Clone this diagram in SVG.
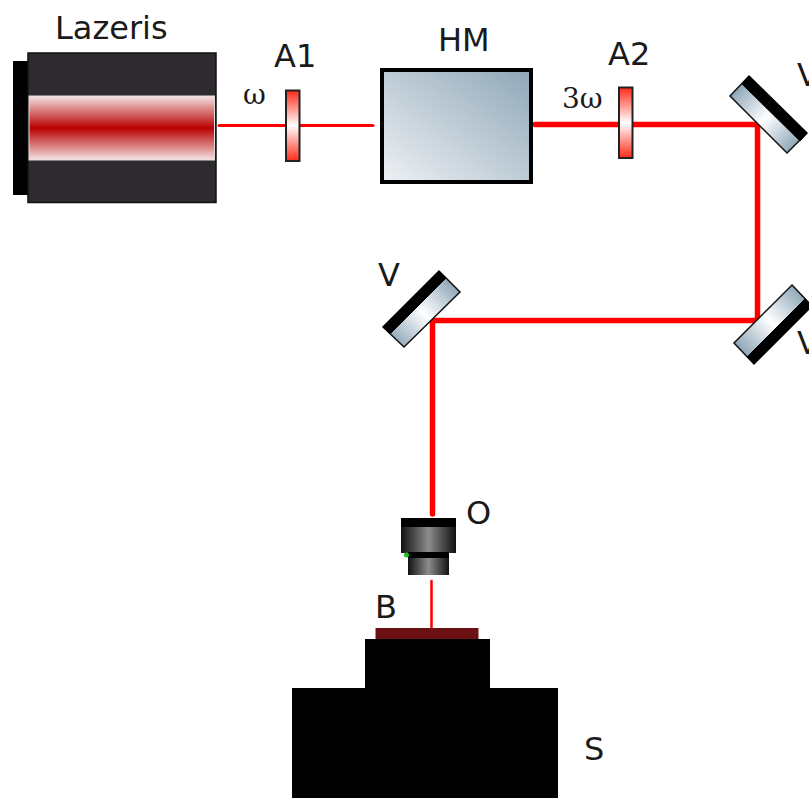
<svg xmlns="http://www.w3.org/2000/svg" width="809" height="798" viewBox="0 0 809 798">
<style>
text{font-family:"DejaVu Sans",Verdana,sans-serif;font-size:32px;fill:#1a1a1a}
text.w{font-family:"DejaVu Serif","Liberation Serif",serif;font-size:28px}
.b1{stroke:#f00;stroke-width:3;fill:none;stroke-linecap:round}
.b2{stroke:#f00;stroke-width:5.500;fill:none}
.pl{stroke:#222;stroke-width:2;fill:url(#plate)}
.m{stroke:#111;stroke-width:1.500}
</style>
<defs>
<linearGradient id="laser" x1="0" y1="0" x2="0" y2="1">
<stop offset="0" stop-color="#f6e3e3"/><stop offset=".5" stop-color="#b80000"/><stop offset="1" stop-color="#f6e3e3"/>
</linearGradient>
<linearGradient id="plate" x1="0" y1="0" x2="0" y2="1">
<stop offset="0" stop-color="#ff2a1a"/><stop offset=".5" stop-color="#fff"/><stop offset="1" stop-color="#ff2a1a"/>
</linearGradient>
<linearGradient id="hm" x1="0" y1="1" x2="1" y2="0">
<stop offset="0" stop-color="#eef1f4"/><stop offset="1" stop-color="#8fa7b8"/>
</linearGradient>
<linearGradient id="mA" gradientUnits="userSpaceOnUse" x1="736" y1="90" x2="794" y2="147">
<stop offset="0" stop-color="#8fa7b8"/><stop offset=".5" stop-color="#fff"/><stop offset="1" stop-color="#8fa7b8"/>
</linearGradient>
<linearGradient id="mB" gradientUnits="userSpaceOnUse" x1="390" y1="337" x2="450" y2="281">
<stop offset="0" stop-color="#8fa7b8"/><stop offset=".5" stop-color="#fff"/><stop offset="1" stop-color="#8fa7b8"/>
</linearGradient>
<linearGradient id="mC" gradientUnits="userSpaceOnUse" x1="740" y1="349" x2="800" y2="292">
<stop offset="0" stop-color="#8fa7b8"/><stop offset=".5" stop-color="#fff"/><stop offset="1" stop-color="#8fa7b8"/>
</linearGradient>
<linearGradient id="obj" x1="0" y1="0" x2="1" y2="0">
<stop offset="0" stop-color="#111"/><stop offset=".5" stop-color="#8c8c8c"/><stop offset="1" stop-color="#111"/>
</linearGradient>
</defs>
<g id="connectors">
<path class="b1" d="M219 125.500H285M300 125.500H373"/>
<path class="b2" d="M535 124.500H618M633 124.500H757.500V320.500H432.500V514" stroke-linecap="round"/>
<path class="b1" d="M431.500 581V630" style="stroke-width:2.500"/>
</g>
<g id="laser-source">
<rect x="13" y="61" width="16" height="134" fill="#000"/>
<rect x="28" y="53" width="188" height="149.500" fill="#2e2a30" stroke="#111" stroke-width="1.500"/>
<rect x="29" y="96" width="185.500" height="64" fill="url(#laser)" stroke="#ddd" stroke-width="1"/>
<text x="55" y="39">Lazeris</text>
</g>
<g id="A1">
<rect x="286" y="90.500" width="13.500" height="70.500" class="pl"/>
<text x="274" y="67">A1</text>
</g>
<text id="omega" class="w" x="243" y="104">ω</text>
<g id="HM">
<rect x="382" y="70" width="149" height="112" fill="url(#hm)" stroke="#000" stroke-width="4"/>
<text x="438" y="51">HM</text>
</g>
<text id="omega3" class="w" x="562" y="108">3ω</text>
<g id="A2">
<rect x="619" y="87.500" width="13.500" height="70.500" class="pl"/>
<text x="608" y="65">A2</text>
</g>
<g id="mirror1">
<path class="m" d="M749 76L807 133L787 153L730 96Z" fill="url(#mA)"/>
<path d="M749 76L807 133L800 141L742 84Z" fill="#000" stroke="#000"/>
<text x="797" y="86">V</text>
</g>
<g id="mirror2">
<path class="m" d="M439 271L460 292L404 347L383 327Z" fill="url(#mB)"/>
<path d="M439 271L446 278L390 334L383 327Z" fill="#000" stroke="#000"/>
<text x="378" y="286">V</text>
</g>
<g id="mirror3">
<path class="m" d="M792 285L812 306L754 364L734 343Z" fill="url(#mC)"/>
<path d="M805 299L812 306L754 364L747 357Z" fill="#000" stroke="#000"/>
<text x="797" y="354">V</text>
</g>
<g id="objective">
<rect x="401" y="518" width="55" height="35" fill="url(#obj)"/>
<rect x="401" y="518" width="55" height="9" fill="#000"/>
<rect x="408" y="553" width="41" height="22" fill="url(#obj)"/>
<rect x="408" y="552" width="41" height="6" fill="#000"/>
<circle cx="406.500" cy="555" r="2.500" fill="#1fbf1f"/>
<text x="466" y="524">O</text>
</g>
<g id="sample">
<rect x="375.500" y="628" width="103" height="11" fill="#6b1013"/>
<text x="375" y="618">B</text>
</g>
<g id="stage">
<path d="M365 639H490V688H558V798H292V688H365Z" fill="#000"/>
<text x="584" y="760">S</text>
</g>
</svg>
